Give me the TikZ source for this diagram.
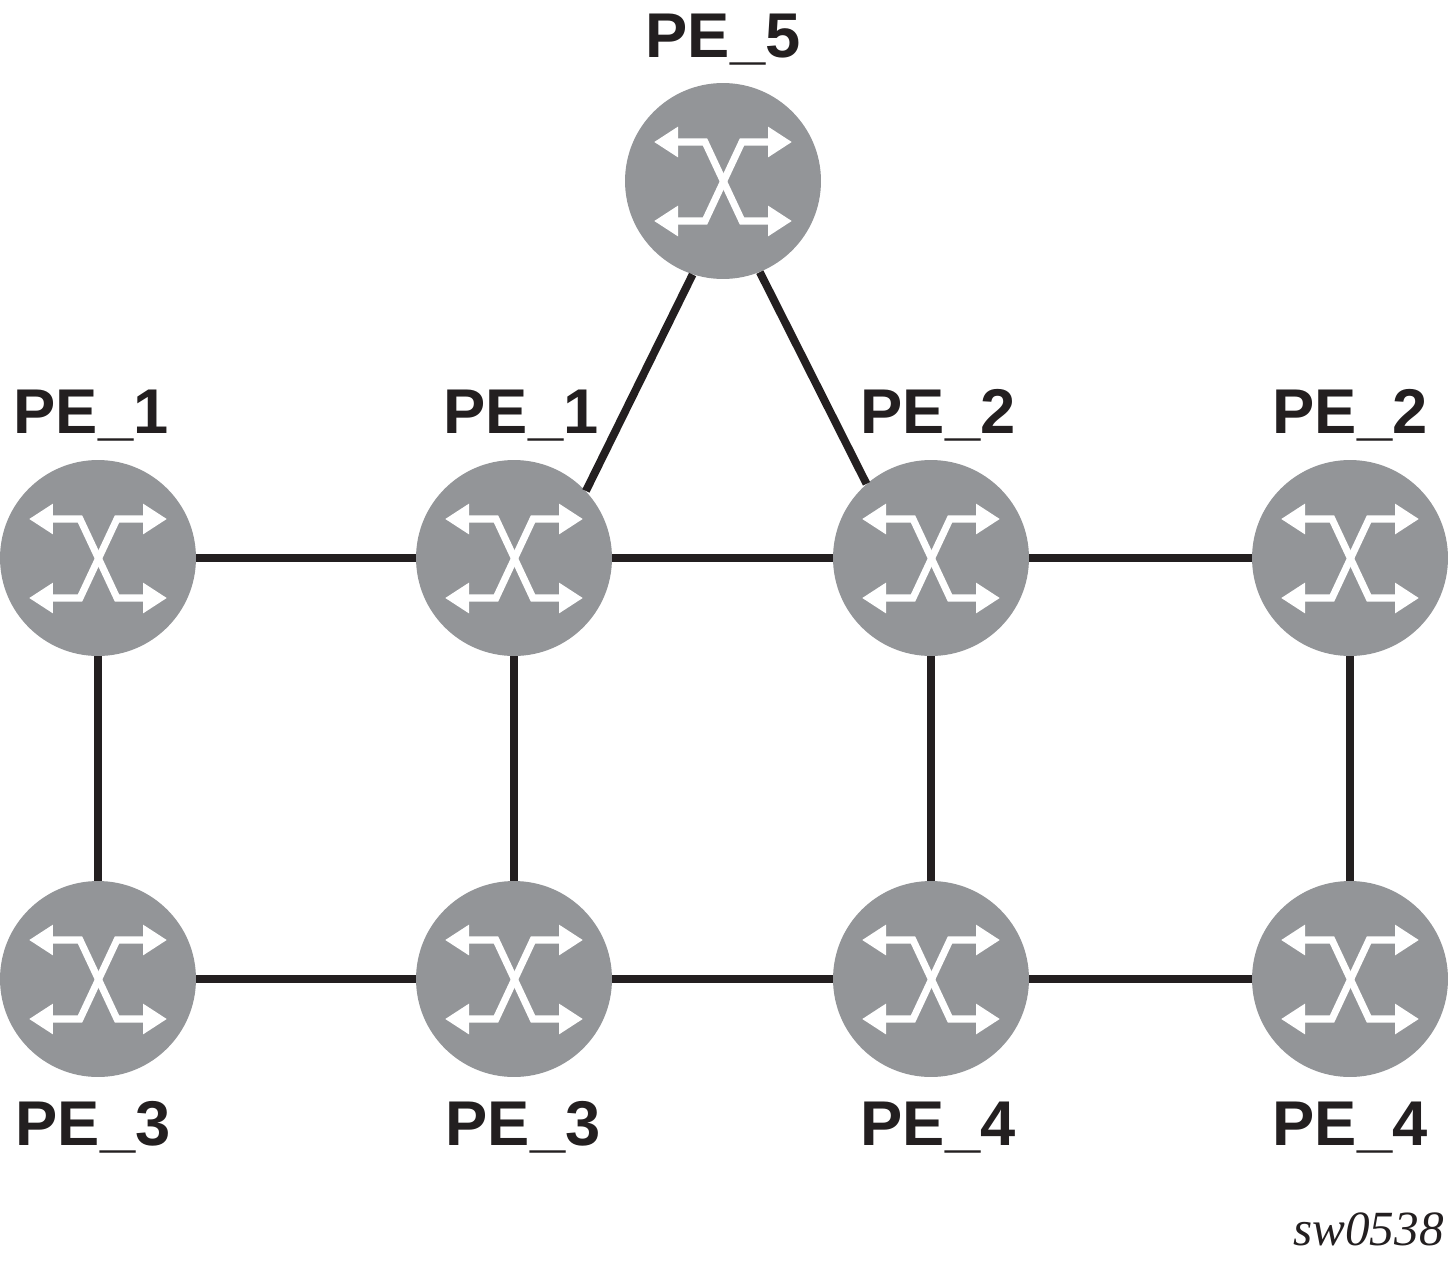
\documentclass[tikz,border=0pt]{standalone}
\usepackage{fontspec}
\setmainfont{Liberation Sans}
\newfontfamily\tagfont{Liberation Serif}
\usetikzlibrary{arrows.meta}
\definecolor{routergray}{RGB}{147,149,152}
\definecolor{linkblack}{RGB}{35,31,32}
\tikzset{
  xarrow/.style={white, line width=4pt,
    {Triangle[length=0.48cm,width=0.58cm]}-{Triangle[length=0.48cm,width=0.58cm]}},
  router/.style={circle, fill=routergray, minimum size=3.92cm, inner sep=0pt,
    path picture={
      \draw[xarrow, shift={(path picture bounding box.center)}]
        (-69,-39) -- (-18,-39) -- (19,40) -- (69,40);
      \draw[xarrow, shift={(path picture bounding box.center)}]
        (-69,40) -- (-18,40) -- (19,-39) -- (69,-39);
    }},
  pe/.style={font=\bfseries\fontsize{36}{36}\selectfont, text=linkblack,
    anchor=base, inner sep=0pt},
  link/.style={linkblack, line width=4.5pt},
}
\begin{document}
\begin{tikzpicture}[x=0.02cm, y=-0.02cm]
  \useasboundingbox (0,0) rectangle (1450,1261);
  % routers
  \node[router] (r5) at (723,181) {};
  \node[router] (r1) at (98,558) {};
  \node[router] (r2) at (514,558) {};
  \node[router] (r3) at (931,558) {};
  \node[router] (r4) at (1350,558) {};
  \node[router] (r6) at (98,979) {};
  \node[router] (r7) at (514,979) {};
  \node[router] (r8) at (931,979) {};
  \node[router] (r9) at (1350,979) {};
  % names
  \node[pe] (t5) at (723,57) {PE\_5};
  \node[pe] (t1) at (91,433) {PE\_1};
  \node[pe] (t2) at (521,433) {PE\_1};
  \node[pe] (t3) at (938,433) {PE\_2};
  \node[pe] (t4) at (1350,433) {PE\_2};
  \node[pe] (t6) at (93,1145) {PE\_3};
  \node[pe] (t7) at (523,1145) {PE\_3};
  \node[pe] (t8) at (938,1145) {PE\_4};
  \node[pe] (t9) at (1350,1145) {PE\_4};
  \node[anchor=base east, inner sep=0pt, text=linkblack,
    font=\tagfont\itshape\fontsize{28}{28}\selectfont] (tag) at (1444,1245) {sw0538};
  % links
  \draw[link] (r5.252) -- (r2.43);
  \draw[link] (r5.292) -- (r3.131);
  \draw[link] (r1) -- (r2);
  \draw[link] (r2) -- (r3);
  \draw[link] (r3) -- (r4);
  \draw[link] (r6) -- (r7);
  \draw[link] (r7) -- (r8);
  \draw[link] (r8) -- (r9);
  \draw[link] (r1) -- (r6);
  \draw[link] (r2) -- (r7);
  \draw[link] (r3) -- (r8);
  \draw[link] (r4) -- (r9);
\end{tikzpicture}
\end{document}
